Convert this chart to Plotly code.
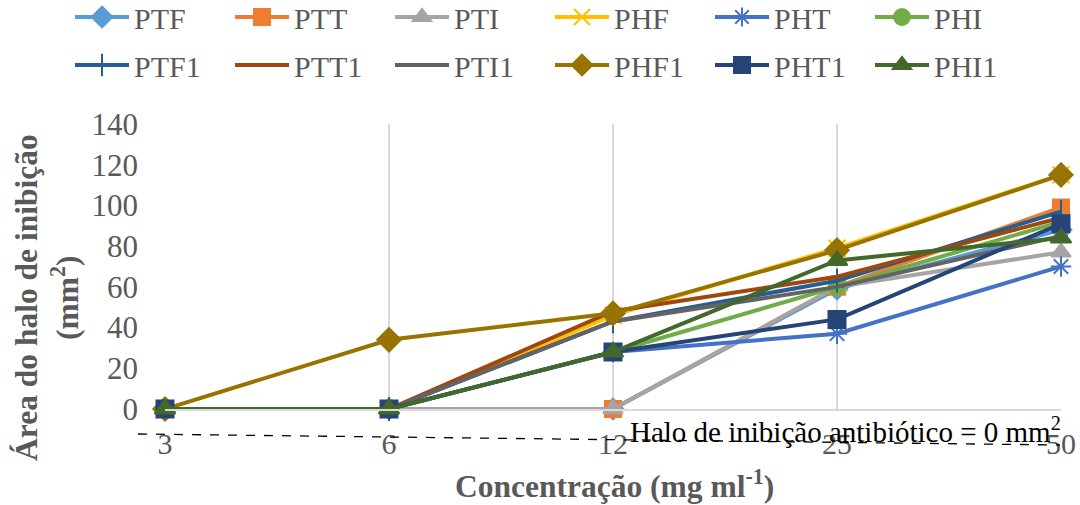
import plotly.graph_objects as go

categories = ["3", "6", "12", "25", "50"]

PTF = [0, 0, 0, 59, 88]
PTT = [0, 0, 0, 60, 99]
PTI = [0, 0, 0, 60, 77]
PHF = [0, 0, 46, 79, 115]
PHT = [0, 0, 28, 37, 70]
PHI = [0, 0, 28, 60, 92]
PTF1 = [0, 0, 43, 63, 97]
PTT1 = [0, 0, 48, 65, 94]
PTI1 = [0, 0, 43, 60, 85]
PHF1 = [0, 34, 47, 78, 115]
PHT1 = [0, 0, 28, 44, 91]
PHI1 = [0, 0, 28, 73, 84]

series = [
    ("PTF", PTF, "#5B9BD5", "diamond", 16),
    ("PTT", PTT, "#ED7D31", "square", 16),
    ("PTI", PTI, "#A5A5A5", "triangle-up", 17),
    ("PHF", PHF, "#FFC000", "x-thin-open", 17),
    ("PHT", PHT, "#4472C4", "asterisk-open", 17),
    ("PHI", PHI, "#70AD47", "circle", 16),
    ("PTF1", PTF1, "#255E91", "line-ns-open", 17),
    ("PTT1", PTT1, "#9E480E", "line-ew-open", 10),
    ("PTI1", PTI1, "#636363", "line-ew-open", 10),
    ("PHF1", PHF1, "#997300", "diamond", 18),
    ("PHT1", PHT1, "#264478", "square", 17),
    ("PHI1", PHI1, "#43682B", "triangle-up", 18),
]

FONT = "Liberation Serif"
GREY = "#595959"

W, H = 1080, 505
L, R, T, B = 165, 19, 124, 96
pw, ph = W - L - R, H - T - B

def px_x(x):
    return (x - L) / pw

def px_y(y):
    return (H - B - y) / ph

fig = go.Figure()
layout_legends = {}
for i, (name, vals, color, sym, size) in enumerate(series):
    key = "legend" if i == 0 else f"legend{i + 1}"
    fig.add_trace(go.Scatter(
        x=categories, y=vals, name=name, mode="lines+markers",
        line=dict(color=color, width=4),
        marker=dict(symbol=sym, size=size, color=color,
                    line=dict(color=color, width=2)),
        cliponaxis=False, legend=key,
    ))
    col, row = i % 6, i // 6
    lx = 70 + 160 * col
    ly = 17 + 48 * row
    layout_legends[key] = dict(
        orientation="h", xref="container", yref="container",
        x=lx / W, y=1 - ly / H, xanchor="left", yanchor="middle",
        font=dict(family=FONT, size=30, color=GREY),
        itemwidth=54, bgcolor="rgba(0,0,0,0)",
    )

fig.update_layout(
    width=W, height=H,
    margin=dict(l=L, r=R, t=T, b=B, autoexpand=False),
    paper_bgcolor="white", plot_bgcolor="white",
    showlegend=True,
    xaxis=dict(
        type="category", range=[0, 4],
        showgrid=True, gridcolor="#D9D9D9", gridwidth=1.5,
        showline=True, linecolor="#D9D9D9", linewidth=1.5,
        zeroline=False, ticks="",
        tickfont=dict(family=FONT, size=30, color=GREY),
        ticklabelstandoff=7,
    ),
    yaxis=dict(
        range=[0, 140], dtick=20,
        showgrid=False, zeroline=False, showline=False, ticks="",
        tickfont=dict(family=FONT, size=31, color=GREY),
        ticklabelstandoff=26,
    ),
    **layout_legends,
)

fig.add_shape(
    type="line", xref="paper", yref="paper",
    x0=px_x(138), y0=px_y(434), x1=px_x(1060), y1=px_y(445),
    line=dict(color="black", width=1.3, dash="dash"),
)

fig.add_annotation(
    text="Halo de inibição antibiótico = 0 mm<sup>2</sup>",
    xref="paper", yref="paper", x=px_x(628), y=px_y(430),
    xanchor="left", yanchor="middle", showarrow=False,
    font=dict(family=FONT, size=29, color="black"),
)

fig.add_annotation(
    text="Concentração (mg ml<sup>-1</sup>)",
    xref="paper", yref="paper", x=px_x(614), y=px_y(484),
    xanchor="center", yanchor="middle", showarrow=False,
    font=dict(family=FONT, size=31.5, color=GREY, weight="bold"),
)

fig.add_annotation(
    text="Área do halo de inibição<br>(mm<sup>2</sup>)",
    xref="paper", yref="paper", x=px_x(47), y=px_y(298),
    xanchor="center", yanchor="middle", showarrow=False, textangle=-90,
    font=dict(family=FONT, size=31.5, color=GREY, weight="bold"),
)

fig.write_html("out.html")
